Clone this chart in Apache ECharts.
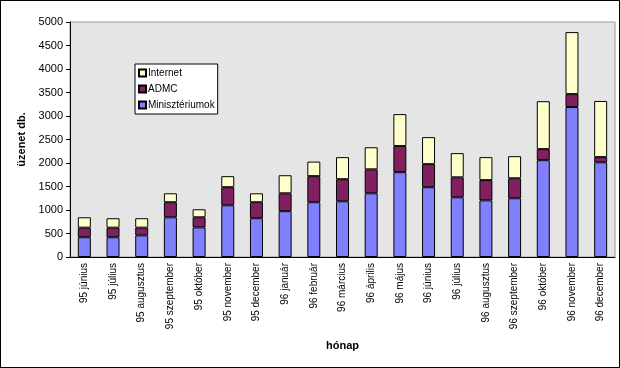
<!DOCTYPE html>
<html><head><meta charset="utf-8">
<script src="https://cdn.jsdelivr.net/npm/echarts@6/dist/echarts.min.js"></script>
<style>
html,body{margin:0;padding:0;background:#fff;}
#c{width:620px;height:368px;box-sizing:border-box;border:1px solid #000;}
</style></head>
<body><div id="c"></div>
<script>
const categories = ["95 június","95 július","95 augusztus","95 szeptember","95 október","95 november","95 december","96 január","96 február","96 március","96 április","96 május","96 június","96 július","96 augusztus","96 szeptember","96 október","96 november","96 december"];
const miniszteriumok = [420,420,460,845,630,1100,825,975,1165,1185,1355,1805,1485,1270,1205,1250,2060,3190,2015];
const admc = [205,205,165,320,215,385,340,380,555,470,510,555,490,425,430,425,235,275,110];
const internet = [220,200,200,190,170,235,190,385,310,470,470,680,575,515,490,470,1020,1320,1195];
const yTicks = {min:0, max:5000, interval:500};

const font = 'Liberation Sans, Arial, sans-serif';
const chart = echarts.init(document.getElementById('c'), null, {renderer:'canvas'});
function s(name, data, color){
  return {name, type:'bar', stack:'t', data, barWidth:13,
    itemStyle:{color, borderColor:'#000', borderWidth:1}};
}
chart.setOption({
  animation:false,
  textStyle:{fontFamily:font},
  grid:{left:69, right:4, top:21, bottom:110, show:true, backgroundColor:'#E5E5E5', borderColor:'#999', borderWidth:1},
  legend:{orient:'vertical', left:134, top:63, backgroundColor:'#fff', borderColor:'#000', borderWidth:1,
    padding:[4,3,4,3], itemWidth:7, itemHeight:7, itemGap:6, icon:'rect',
    data:['Internet','ADMC','Minisztériumok'],
    textStyle:{fontSize:10, color:'#000', fontFamily:font, padding:[0,0,0,-3]}},
  xAxis:{type:'category', data:categories, name:'hónap', nameLocation:'middle', nameGap:83,
    nameTextStyle:{fontWeight:'bold', fontSize:11, color:'#000'},
    axisLine:{lineStyle:{color:'#000'}}, axisTick:{length:4, lineStyle:{color:'#000'}},
    axisLabel:{rotate:90, fontSize:10, color:'#000', margin:6, interval:0}},
  yAxis:{type:'value', min:yTicks.min, max:yTicks.max, interval:yTicks.interval,
    name:'üzenet db.', nameLocation:'middle', nameGap:38, nameRotate:90,
    nameTextStyle:{fontWeight:'bold', fontSize:11, color:'#000'},
    axisLine:{show:true, lineStyle:{color:'#000'}}, axisTick:{show:true, length:4, lineStyle:{color:'#000'}},
    splitLine:{show:false}, axisLabel:{fontSize:11, color:'#000', margin:7, formatter:v=>String(v)}},
  series:[
    s('Minisztériumok', miniszteriumok, '#8080FF'),
    s('ADMC', admc, '#802060'),
    s('Internet', internet, '#FFFFCC')
  ]
});
</script></body></html>
